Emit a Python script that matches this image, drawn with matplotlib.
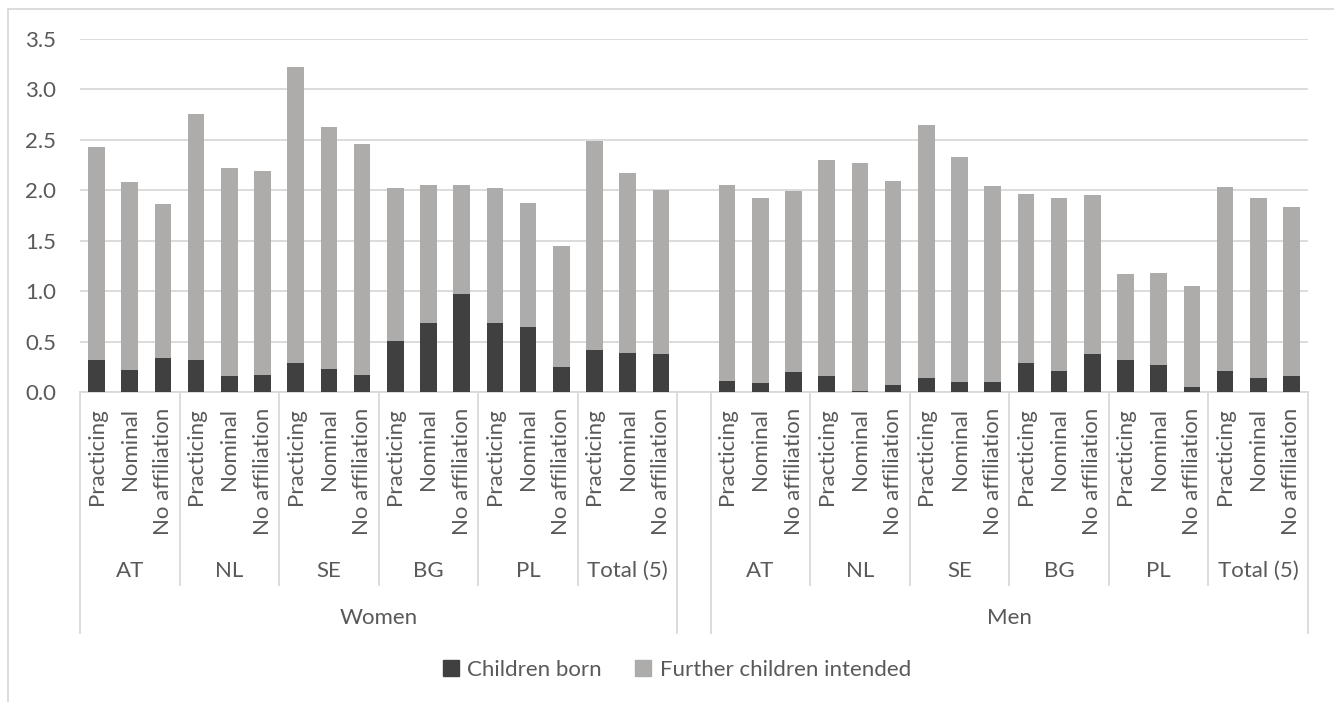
import matplotlib.pyplot as plt
from matplotlib.patches import Patch
from matplotlib.lines import Line2D
import numpy as np

plt.rcParams['font.family'] = ['Lato', 'DejaVu Sans']

countries = ['AT', 'NL', 'SE', 'BG', 'PL', 'Total (5)']
affiliations = ['Practicing', 'Nominal', 'No affiliation']
sexes = ['Women', 'Men']

# totals (born + intended) and children born, per country x affiliation
women_total = [2.43, 2.08, 1.86, 2.76, 2.22, 2.19, 3.22, 2.63, 2.46,
               2.02, 2.05, 2.05, 2.02, 1.87, 1.45, 2.49, 2.17, 2.00]
women_born = [0.32, 0.22, 0.34, 0.32, 0.16, 0.17, 0.29, 0.23, 0.17,
              0.51, 0.68, 0.97, 0.68, 0.64, 0.25, 0.42, 0.39, 0.38]
men_total = [2.05, 1.92, 1.99, 2.30, 2.27, 2.09, 2.65, 2.33, 2.04,
             1.96, 1.92, 1.95, 1.17, 1.18, 1.05, 2.03, 1.92, 1.83]
men_born = [0.11, 0.09, 0.20, 0.16, 0.01, 0.07, 0.14, 0.10, 0.10,
            0.29, 0.21, 0.38, 0.32, 0.27, 0.05, 0.21, 0.14, 0.16]

dark = '#404040'
light = '#AEABAB'
grid = '#D9D9D9'
txt = '#595959'
fs = 16

W, H = 1334, 702
fig = plt.figure(figsize=(W / 100, H / 100), dpi=100)
ax = fig.add_axes([80 / W, (H - 392) / H, (1308 - 80) / W, (392 - 39) / H])

n = len(countries) * len(affiliations)
x_w = np.arange(n)
x_m = np.arange(n) + n + 1
ncat = 2 * n + 1

born = np.array(women_born + men_born)
total = np.array(women_total + men_total)
xs = np.concatenate([x_w, x_m])
ax.bar(xs, born, width=0.5, color=dark, zorder=3)
ax.bar(xs, total - born, bottom=born, width=0.5, color=light, zorder=3)

ax.set_xlim(-0.5, ncat - 0.5)
ax.set_ylim(0, 3.5)
ax.set_yticks(np.arange(0, 3.51, 0.5))
ax.set_yticklabels([f'{v:.1f}' for v in np.arange(0, 3.51, 0.5)])
ax.tick_params(axis='y', length=0, pad=17, labelsize=fs, labelcolor=txt)
ax.set_xticks([])
ax.grid(axis='y', color=grid, lw=1.3, zorder=0)
for s in ['top', 'right', 'left']:
    ax.spines[s].set_visible(False)
ax.spines['bottom'].set_color(grid)
ax.spines['bottom'].set_linewidth(1.3)

tr = ax.get_xaxis_transform()
ph = 392 - 39
y1 = (392 - 408) / ph
y2 = (392 - 571) / ph
y3 = (392 - 618) / ph
ysep = (392 - 585) / ph
yout = (392 - 633) / ph

for k, (sex, base) in enumerate(zip(sexes, [0, n + 1])):
    for i, c in enumerate(countries):
        for j, a in enumerate(affiliations):
            xi = base + i * 3 + j
            ax.text(xi, y1, a, rotation=90, ha='center', va='top',
                    transform=tr, fontsize=fs, color=txt)
        ax.text(base + i * 3 + 1, y2, c, ha='center', va='center',
                transform=tr, fontsize=fs, color=txt)
        if i > 0:
            ax.plot([base + i * 3 - 0.5] * 2, [0, ysep], transform=tr,
                    color=grid, lw=1.3, clip_on=False)
    ax.text(base + n / 2 - 0.5, y3, sex, ha='center', va='center',
            transform=tr, fontsize=fs, color=txt)
    for xb in [base - 0.5, base + n - 0.5]:
        ax.plot([xb, xb], [0, yout], transform=tr, color=grid, lw=1.3,
                clip_on=False)

# chart border (top and left visible)
fig.add_artist(Line2D([8 / W, 1], [1 - 9 / H, 1 - 9 / H], color=grid, lw=1.3))
fig.add_artist(Line2D([8 / W, 8 / W], [0, 1 - 9 / H], color=grid, lw=1.3))

handles = [Patch(color=dark, label='Children born'),
           Patch(color=light, label='Further children intended')]
fig.legend(handles=handles, loc='center', bbox_to_anchor=(677 / W, 1 - 670 / H),
           ncol=2, frameon=False, fontsize=fs, labelcolor=txt,
           handlelength=0.7, handleheight=0.7, handletextpad=0.4, columnspacing=1.5)

fig.savefig('out.png', dpi=100)
